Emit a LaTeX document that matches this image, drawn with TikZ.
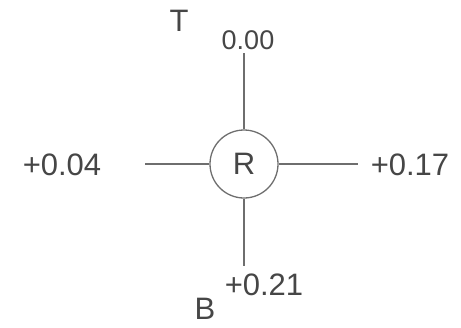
\documentclass[tikz,border=0pt]{standalone}
\usepackage{fontspec}
\setmainfont{Liberation Sans}
\usetikzlibrary{positioning}
\definecolor{inkgray}{RGB}{70,70,70}
\definecolor{linegray}{RGB}{110,110,110}

\begin{document}
\begin{tikzpicture}[x=1pt,y=-1pt,
  lbl/.style={inkgray, font=\fontsize{31}{34}\selectfont, inner sep=0pt},
  arm/.style={linegray, line width=1.3pt}]
  \useasboundingbox (0,0) rectangle (461,327);
  % centre ring
  \node[lbl, circle, draw=linegray, line width=1.3pt, minimum size=68pt] (r) at (244,164) {R};
  % arm ends
  \coordinate (tEnd) at (244,53);
  \coordinate (lEnd) at (145,164);
  \coordinate (rEnd) at (358,164);
  \coordinate (bEnd) at (244,266);
  \draw[arm] (r.north) -- (tEnd);
  \draw[arm] (r.west) -- (lEnd);
  \draw[arm] (r.east) -- (rEnd);
  \draw[arm] (r.south) -- (bEnd);
  % values
  \node[lbl, font=\fontsize{27}{29}\selectfont] (top) at (248,40) {0.00};
  \node[lbl] (left) at (62,165) {+0.04};
  \node[lbl] (right) at (410,165) {+0.17};
  \node[lbl] (bottom) at (264,285) {+0.21};
  \node[lbl] (tmark) at (179,21) {T};
  \node[lbl] (bmark) at (205,309) {B};
\end{tikzpicture}
\end{document}
